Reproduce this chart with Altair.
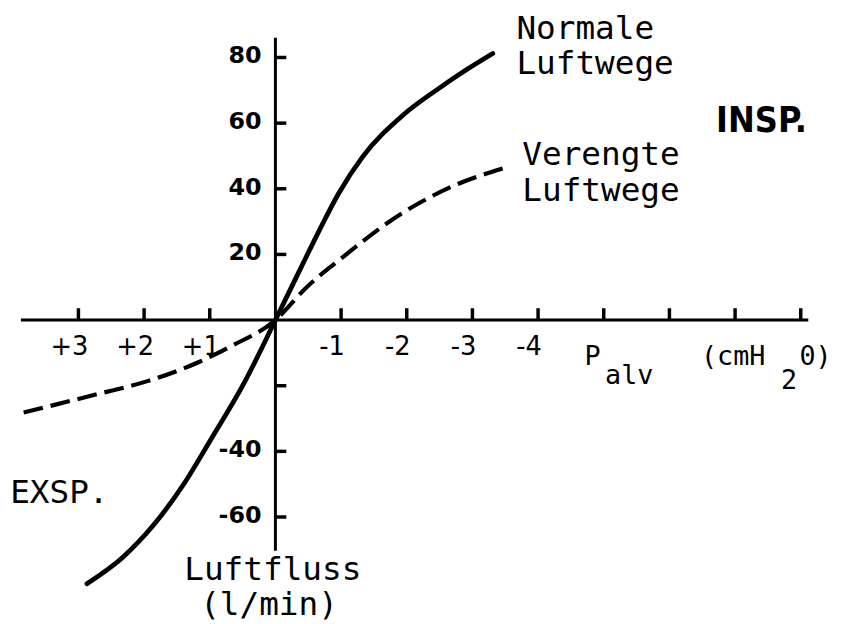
import altair as alt
import pandas as pd

# ---- data ----
# Alveolar pressure (cmH2O) vs. air flow (l/min)
norm_p = [2.87, 2.31, 1.85, 1.39, 0.99, 0.48, 0.0, -0.38, -0.68, -0.96, -1.33, -1.94, -2.49, -2.89, -3.31]
norm_f = [-80.3, -72.0, -62.3, -49.8, -36.6, -19.3, 0.0, 15.6, 27.8, 38.5, 49.8, 62.4, 70.6, 76.0, 81.2]
narrow_p = [3.86, 2.72, 1.95, 1.19, 0.68, 0.0, -0.48, -0.96, -1.94, -2.69, -3.46]
narrow_f = [-28.3, -22.6, -18.6, -13.0, -8.0, 0.0, 10.1, 18.1, 32.7, 40.7, 46.2]

x_ticks = [3, 2, 1, -1, -2, -3, -4, -5, -6, -7, -8]
x_label_vals = [3, 2, 1, -1, -2, -3, -4]
x_label_text = ["+3", "+2", "+1", "-1", "-2", "-3", "-4"]
y_ticks = [80, 60, 40, 20, -20, -40, -60]
y_label_vals = [80, 60, 40, 20, -40, -60]
y_label_text = ["80", "60", "40", "20", "-40", "-60"]

x_axis_range = [3.876, -8.115]
y_axis_range = [86.0, -70.3]

W, H = 837, 616
xs = alt.Scale(domain=[-8.552, 4.0724], reverse=True, nice=False, zero=False)
ys = alt.Scale(domain=[-91.70, 94.18], nice=False, zero=False)


def X(field="P"):
    return alt.X(f"{field}:Q", scale=xs, axis=None)


def Y(field="F"):
    return alt.Y(f"{field}:Q", scale=ys, axis=None)


axes_df = pd.DataFrame({
    "P": [x_axis_range[0], 0.0], "P2": [x_axis_range[1], 0.0],
    "F": [0.0, y_axis_range[0]], "F2": [0.0, y_axis_range[1]],
})
axes = alt.Chart(axes_df).mark_rule(color="black", strokeWidth=3).encode(
    x=X(), x2="P2", y=Y(), y2="F2")

xt_df = pd.DataFrame({"P": x_ticks, "F": [0.0] * len(x_ticks), "F2": [3.6] * len(x_ticks)})
xticks = alt.Chart(xt_df).mark_rule(color="black", strokeWidth=3.5).encode(
    x=X(), y=Y(), y2="F2")

yt_df = pd.DataFrame({"F": y_ticks, "P": [0.0] * len(y_ticks), "P2": [-0.166] * len(y_ticks)})
yticks = alt.Chart(yt_df).mark_rule(color="black", strokeWidth=3.5).encode(
    x=X(), x2="P2", y=Y())

xl_df = pd.DataFrame({"P": x_label_vals, "F": [0.0] * len(x_label_vals), "t": x_label_text})
xlabels = alt.Chart(xl_df).mark_text(
    font="DejaVu Sans", fontSize=26, color="black", align="center",
    baseline="alphabetic", dx=-9, dy=35).encode(x=X(), y=Y(), text="t:N")

yl_df = pd.DataFrame({"F": y_label_vals, "P": [0.0] * len(y_label_vals), "t": y_label_text})
ylabels = alt.Chart(yl_df).mark_text(
    font="DejaVu Sans", fontSize=24, fontWeight="bold", color="black", align="right",
    baseline="middle", dx=-14, dy=-1).encode(x=X(), y=Y(), text="t:N")

norm_df = pd.DataFrame({"P": norm_p, "F": norm_f})
normal = alt.Chart(norm_df).mark_line(
    color="black", strokeWidth=4.8, interpolate="monotone", strokeCap="round").encode(
    x=X(), y=Y(), order="P:Q")

narrow_df = pd.DataFrame({"P": narrow_p, "F": narrow_f})
narrow = alt.Chart(narrow_df).mark_line(
    color="black", strokeWidth=4.2, interpolate="monotone", strokeDash=[20, 8]).encode(
    x=X(), y=Y(), order="P:Q")

# annotation texts (positions in data units)
mono_df = pd.DataFrame({
    "P": [-3.67, -3.67, -3.76, -3.76, 4.04, 1.388, 1.146],
    "F": [85.7, 74.9, 47.1, 36.3, -55.8, -79.3, -89.9],
    "t": ["Normale", "Luftwege", "Verengte", "Luftwege", "EXSP.", "Luftfluss", "(l/min)"],
})
mono = alt.Chart(mono_df).mark_text(
    font="DejaVu Sans Mono", fontSize=33, color="black", align="left",
    baseline="alphabetic").encode(x=X(), y=Y(), text="t:N")

unit_df = pd.DataFrame({
    "P": [-4.706, -5.02, -6.48, -7.70, -7.98],
    "F": [-13.6, -19.6, -13.6, -21.1, -13.6],
    "t": ["P", "alv", "(cmH", "2", "0)"],
})
unit = alt.Chart(unit_df).mark_text(
    font="DejaVu Sans Mono", fontSize=27, color="black", align="left",
    baseline="alphabetic").encode(x=X(), y=Y(), text="t:N")

insp_df = pd.DataFrame({"P": [-6.71], "F": [57.3], "t": ["INSP."]})
insp = alt.Chart(insp_df).mark_text(
    font="'DejaVu Sans Condensed', 'Liberation Sans', sans-serif", fontSize=36,
    fontWeight="bold", color="black",
    align="left", baseline="alphabetic").encode(x=X(), y=Y(), text="t:N")

chart = alt.layer(
    axes, xticks, yticks, xlabels, ylabels, narrow, normal, mono, unit, insp
).properties(
    width=W, height=H, padding=0,
    autosize=alt.AutoSizeParams(type="none"),
    background="white",
).configure_view(stroke=None)

chart.save("out.html", embed_options={"renderer": "svg", "actions": False})
